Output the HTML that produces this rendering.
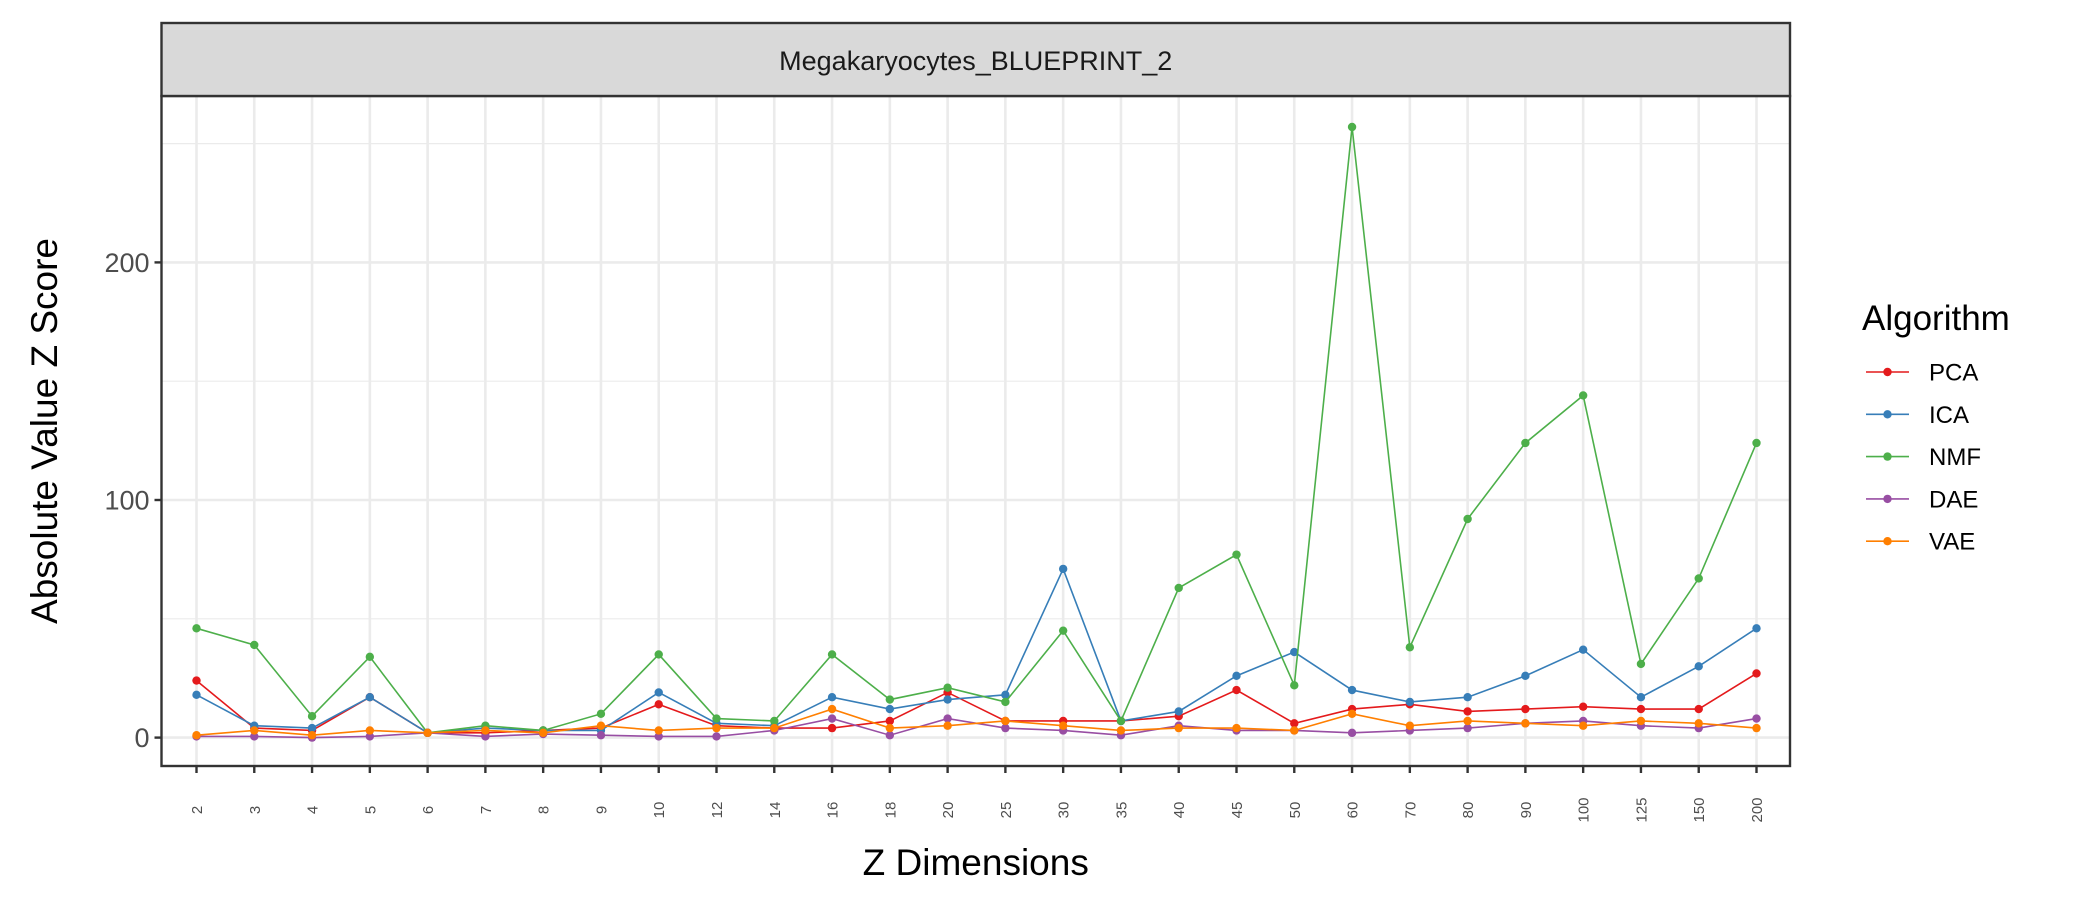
<!DOCTYPE html>
<html><head><meta charset="utf-8"><style>
html,body{margin:0;padding:0;background:#fff;}
svg{display:block;font-family:"Liberation Sans",Arial,sans-serif;}
</style></head><body>
<svg id="chart" width="2100" height="900" xmlns="http://www.w3.org/2000/svg"></svg>
<script>
const categories=["2","3","4","5","6","7","8","9","10","12","14","16","18","20","25","30","35","40","45","50","60","70","80","90","100","125","150","200"];
const pcaValues=[24,4,3,17,2,2,3,4,14,5,4,4,7,19,7,7,7,9,20,6,12,14,11,12,13,12,12,27];
const icaValues=[18,5,4,17,2,4,3,3,19,6,5,17,12,16,18,71,7,11,26,36,20,15,17,26,37,17,30,46];
const nmfValues=[46,39,9,34,2,5,3,10,35,8,7,35,16,21,15,45,7,63,77,22,257,38,92,124,144,31,67,124];
const daeValues=[0.5,0.5,0,0.5,2,0.5,1.5,1,0.5,0.5,3,8,1,8,4,3,1,5,3,3,2,3,4,6,7,5,4,8];
const vaeValues=[1,3,1,3,2,3,2,5,3,4,4,12,4,5,7,5,3,4,4,3,10,5,7,6,5,7,6,4];
const seriesNames=["PCA","ICA","NMF","DAE","VAE"];
const yTicks=[0,100,200];
const yMinor=[50,150,250];

const NS="http://www.w3.org/2000/svg";
const svg=document.getElementById('chart');
const colors=["#E41A1C","#377EB8","#4DAF4A","#984EA3","#FF7F00"];
const allSeries=[pcaValues,icaValues,nmfValues,daeValues,vaeValues];
const PL=161.5,PR=1790,PT=96,PB=766;
function xPos(i){return 196.5+i*(1756.5-196.5)/(categories.length-1);}
function yPos(v){return 737.6-v*2.376;}
function mk(tag,attrs,parent){const e=document.createElementNS(NS,tag);for(const k in attrs)e.setAttribute(k,attrs[k]);(parent||svg).appendChild(e);return e;}

let bg=mk('rect',{x:PL,y:PT,width:PR-PL,height:PB-PT,fill:'#fff'});


yMinor.forEach(v=>{let l=mk('line',{x1:PL,x2:PR,y1:yPos(v),y2:yPos(v),stroke:'#ebebeb','stroke-width':1.2});

});
yTicks.forEach(v=>{let l=mk('line',{x1:PL,x2:PR,y1:yPos(v),y2:yPos(v),stroke:'#ebebeb','stroke-width':2.6});

});
categories.forEach((c,i)=>{let l=mk('line',{x1:xPos(i),x2:xPos(i),y1:PT,y2:PB,stroke:'#ebebeb','stroke-width':2.6});

});
allSeries.forEach((vals,s)=>{
  const g=mk('g',{});
  
  
  const pts=vals.map((v,i)=>xPos(i)+','+yPos(v)).join(' ');
  let pl=mk('polyline',{points:pts,fill:'none',stroke:colors[s],'stroke-width':1.6},g);
  
  
  vals.forEach((v,i)=>{let c=mk('circle',{cx:xPos(i),cy:yPos(v),r:4.2,fill:colors[s]},g);
  
  });
});
let br=mk('rect',{x:PL,y:PT,width:PR-PL,height:PB-PT,fill:'none',stroke:'#333','stroke-width':2.4});


let st=mk('rect',{x:PL,y:23,width:PR-PL,height:PT-23,fill:'#d9d9d9',stroke:'#333','stroke-width':2.4});


let stt=mk('text',{x:(PL+PR)/2,y:70,'text-anchor':'middle','font-size':27,fill:'#1a1a1a'});
stt.textContent='Megakaryocytes_BLUEPRINT_2';


yTicks.forEach(v=>{
  let t=mk('line',{x1:PL-7,x2:PL,y1:yPos(v),y2:yPos(v),stroke:'#333','stroke-width':2.4});
  
  
  let tx=mk('text',{x:PL-12,y:yPos(v)+9.5,'text-anchor':'end','font-size':27,fill:'#4d4d4d'});
  tx.textContent=String(v);
  
  
});
categories.forEach((c,i)=>{
  let t=mk('line',{x1:xPos(i),x2:xPos(i),y1:PB,y2:PB+7,stroke:'#333','stroke-width':2.4});
  
  
  let tx=mk('text',{x:0,y:0,'text-anchor':'middle','font-size':15,fill:'#4d4d4d',transform:`translate(${xPos(i)+5.5},810) rotate(-90)`});
  tx.textContent=c;
  
  
});
let xt=mk('text',{x:(PL+PR)/2,y:875,'text-anchor':'middle','font-size':37,fill:'#000'});
xt.textContent='Z Dimensions';


let yt=mk('text',{x:0,y:0,'text-anchor':'middle','font-size':37,fill:'#000',transform:`translate(57,${(PT+PB)/2}) rotate(-90)`});
yt.textContent='Absolute Value Z Score';


let lg=mk('g',{});


let lt=mk('text',{x:1862,y:330,'font-size':35,fill:'#000'},lg);
lt.textContent='Algorithm';


seriesNames.forEach((n,s)=>{
  const y=372+s*42.3;
  const e=mk('g',{},lg);
  
  
  mk('line',{x1:1866,x2:1909,y1:y,y2:y,stroke:colors[s],'stroke-width':1.6},e);
  mk('circle',{cx:1887.5,cy:y,r:4.2,fill:colors[s]},e);
  let t=mk('text',{x:1929,y:y+8.5,'font-size':24,fill:'#000'},e);
  t.textContent=n;
});
</script>
</body></html>
